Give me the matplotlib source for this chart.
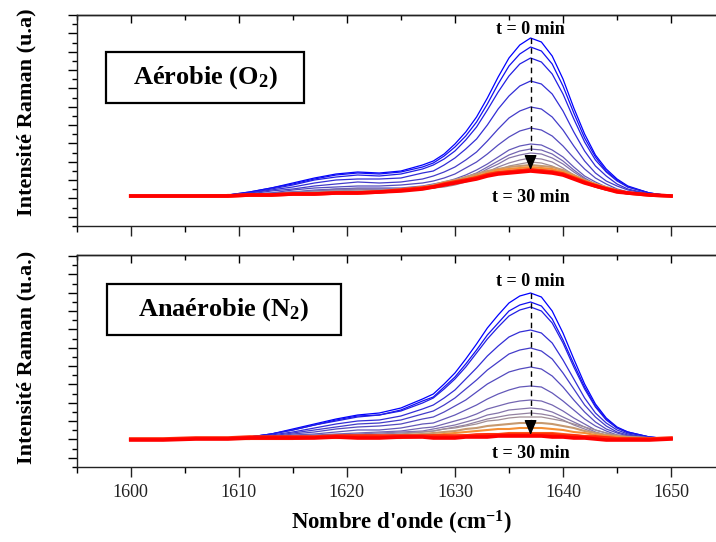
import numpy as np
import matplotlib
matplotlib.use('Agg')
import matplotlib.pyplot as plt
from matplotlib.colors import LinearSegmentedColormap
from matplotlib.patches import Rectangle
from matplotlib.ticker import MultipleLocator, FixedLocator, NullFormatter

plt.rcParams['font.family'] = ['Liberation Serif', 'DejaVu Serif']
plt.rcParams['mathtext.fontset'] = 'custom'
plt.rcParams['mathtext.rm'] = 'Liberation Serif:bold'
plt.rcParams['mathtext.it'] = 'Liberation Serif:bold'
plt.rcParams['mathtext.bf'] = 'Liberation Serif:bold'

# wavenumber grid (cm-1)
wavenumber = [1600, 1603, 1606, 1609, 1611, 1613, 1615, 1617, 1619, 1621, 1623, 1625,
              1627, 1628, 1629, 1630, 1631, 1632, 1633, 1634, 1635, 1636, 1637, 1638,
              1639, 1640, 1641, 1642, 1643, 1644, 1645, 1646, 1648, 1650]

# aerobic (O2) spectra, t = 0 -> 30 min (arbitrary units)
o2_spectra = [
    [30,30,30,31,34,38,43,48,52,54,53,55,61,65,72,82,94,109,128,149,168,181,188,184,170,147,118,92,71,57,47,40,33,30],
    [30,30,30,31,34,38,42,47,51,53,52,54,59,63,70,79,90,104,122,142,160,172,179,175,162,140,113,88,69,55,46,39,33,30],
    [30,30,30,31,33,37,41,46,49,51,50,52,57,61,67,75,86,99,116,134,150,162,168,164,152,132,107,84,66,54,45,39,33,30],
    [30,30,30,31,33,36,39,43,46,47,47,48,53,55,61,68,77,87,101,117,130,140,145,142,132,115,94,75,60,50,42,37,32,30],
    [30,30,30,31,32,35,37,40,42,44,43,44,47,50,54,59,66,74,85,97,108,115,119,117,109,96,80,65,53,45,40,36,32,30],
    [30,30,30,30,32,33,36,38,39,40,40,41,43,45,48,52,58,64,72,81,89,95,98,96,90,80,68,57,48,42,37,34,31,30],
    [30,30,30,30,31,33,34,36,37,38,38,38,40,42,44,47,51,56,62,69,76,80,82,81,76,69,59,50,44,39,36,33,31,30],
    [30,30,30,30,31,32,34,35,37,37,37,37,39,40,42,45,49,53,59,65,71,75,77,76,72,65,56,48,42,38,35,33,31,30],
    [30,30,30,30,31,32,34,35,36,37,36,37,38,40,41,44,47,51,57,62,68,71,73,72,68,62,54,47,41,37,35,33,31,30],
    [30,30,30,30,31,32,33,34,35,36,36,36,37,38,40,43,45,49,54,59,63,66,68,67,64,58,51,45,40,37,34,32,31,30],
    [30,30,30,30,31,32,33,34,35,35,35,35,37,38,39,41,44,47,51,56,60,62,64,63,60,55,49,43,39,36,34,32,31,30],
    [30,30,30,31,31,32,32,33,33,34,35,37,39,41,44,46,49,52,55,57,59,60,61,60,59,56,51,46,42,39,36,33,31,30],
    [30,30,30,31,31,31,32,33,33,34,34,36,39,40,43,45,47,50,53,56,57,58,59,58,57,54,50,45,42,38,35,33,31,30],
    [30,30,30,31,31,31,32,32,33,34,34,36,38,40,42,44,46,49,52,54,55,56,57,56,55,52,48,44,41,38,35,33,31,30],
    [30,30,30,30,31,31,32,32,33,33,34,36,38,39,42,44,46,48,51,53,54,55,56,55,54,52,48,44,40,37,35,33,31,30],
    [30,30,30,30,31,31,32,32,33,33,34,35,37,39,41,43,45,47,50,52,53,54,55,54,53,51,47,43,40,37,34,33,31,30],
]

# anaerobic (N2) spectra, t = 0 -> 30 min (arbitrary units)
n2_spectra = [
    [28,28,28,29,30,33,38,43,48,52,54,59,68,73,83,94,108,123,139,152,164,171,174,170,156,134,108,83,63,49,40,35,30,28],
    [28,28,28,29,30,33,37,42,47,51,52,57,66,70,80,90,103,117,132,144,156,162,165,161,148,127,103,80,61,48,39,35,30,28],
    [28,28,28,29,30,33,37,42,46,50,52,56,64,69,78,88,100,114,128,140,151,157,160,156,144,124,100,78,60,47,39,34,30,28],
    [28,28,28,29,29,32,35,39,43,46,47,51,58,62,69,77,88,99,111,121,130,135,137,134,124,107,88,69,54,44,37,33,29,28],
    [28,28,28,29,29,31,34,37,40,43,44,47,53,56,62,69,78,87,97,105,113,117,119,116,108,94,78,62,50,41,35,32,29,28],
    [28,28,28,28,29,30,33,35,38,40,41,43,48,50,55,61,67,75,83,89,95,98,100,98,91,80,67,55,45,38,34,31,29,28],
    [28,28,28,28,29,30,32,33,35,37,37,39,43,44,48,52,57,62,68,73,77,80,81,80,74,66,57,48,41,36,32,31,29,28],
    [28,28,28,28,29,29,31,32,33,34,35,36,39,40,43,46,49,53,58,61,64,66,67,66,62,56,49,43,37,34,31,30,29,28],
    [28,28,28,28,28,29,30,31,32,33,34,35,36,38,40,42,45,48,52,54,57,58,59,58,55,50,45,40,35,32,31,29,28,28],
    [28,28,28,28,28,29,30,31,32,32,33,34,35,36,38,40,42,45,48,50,52,53,54,53,51,47,42,38,34,32,30,29,28,28],
    [28,28,28,28,29,29,30,30,30,31,31,33,35,36,38,39,41,43,46,47,49,50,50,50,48,46,43,40,37,34,32,30,29,28],
    [28,28,28,28,28,29,29,29,30,30,30,32,33,34,35,36,38,39,41,42,43,44,44,44,43,41,39,36,34,32,31,30,29,28],
    [28,28,28,28,28,29,29,29,29,29,30,30,31,32,33,34,35,36,37,38,38,39,39,39,38,37,35,34,32,31,30,29,28,28],
    [28,28,28,28,28,28,28,29,29,29,29,29,30,30,31,31,32,32,33,33,34,34,34,34,34,33,32,31,30,30,29,29,28,28],
    [28,28,29,29,30,30,30,30,31,31,31,31,31,31,31,31,31,32,32,32,32,32,32,32,32,31,31,30,30,29,28,28,28,29],
    [27,27,28,28,29,29,29,29,30,29,29,30,30,29,29,29,30,30,30,31,31,31,31,31,30,30,29,29,28,27,27,27,27,28],
]

panel_labels = ['Aérobie (O$_2$)', 'Anaérobie (N$_2$)']
ylabels = ['Intensité Raman (u.a)', 'Intensité Raman (u.a.)']

for s in o2_spectra + n2_spectra:
    assert len(s) == len(wavenumber), len(s)

cmap = LinearSegmentedColormap.from_list('time', [
    (0.0, '#0000ff'), (0.3, '#4b43c2'), (0.55, '#8878a8'), (0.7, '#a89490'),
    (0.78, '#f0a040'), (0.88, '#ff4a10'), (1.0, '#ff0000')])

W, H = 716, 542
fig = plt.figure(figsize=(W / 100, H / 100), dpi=100)


def px_axes(l, t, r, b):
    return fig.add_axes([l / W, 1 - b / H, (r - l) / W, (b - t) / H])


ax1 = px_axes(76.7, 15, 725.1, 226)
ax2 = px_axes(76.7, 255, 725.1, 467)

settings = [
    # ax, spectra, ylim, box (x0,y0,w,h), text pos, arrow top, tip, t0 y, t30 y, ylabel y
    (ax1, o2_spectra, 211, (0.045, 0.583, 0.305, 0.242), (0.198, 0.704), 188, 56, 196, 29, 112),
    (ax2, n2_spectra, 212, (0.0467, 0.623, 0.361, 0.241), (0.227, 0.743), 174, 32, 185, 13, 357),
]

for i, (ax, spectra, ytop, box, tpos, a_top, a_tip, y0t, y30t, ylab_y) in enumerate(settings):
    n = len(spectra)
    cols = cmap(np.linspace(0, 1, n))
    for k, s in enumerate(spectra):
        if k >= n - 2:
            lw = 2.6
        elif k >= n - 5:
            lw = 1.5
        else:
            lw = 0.9
        ax.plot(wavenumber, s, color=cols[k], lw=lw, zorder=2 + k * 0.01)

    ax.set_xlim(1595, 1655)
    ax.set_ylim(0, ytop)

    # arrow
    ax.plot([1637, 1637], [a_top, a_tip + 12], color='k', lw=1.0, ls=(0, (4, 3)), zorder=5)
    ax.annotate('', xy=(1637, a_tip), xytext=(1637, a_tip + 12),
                arrowprops=dict(arrowstyle='-|>,head_length=0.6,head_width=0.25',
                                mutation_scale=15, color='k', lw=1.0, shrinkA=0, shrinkB=0),
                zorder=6)
    ax.text(1637, y0t, 't = 0 min', ha='center', va='center', fontsize=13, fontweight='bold')
    ax.text(1637, y30t, 't = 30 min', ha='center', va='center', fontsize=13, fontweight='bold')

    # label box
    ax.add_patch(Rectangle((box[0], box[1]), box[2], box[3], transform=ax.transAxes,
                           fill=False, lw=1.6, ec='k', zorder=7))
    ax.text(tpos[0], tpos[1], panel_labels[i], transform=ax.transAxes, ha='center',
            va='center', fontsize=19, fontweight='bold')

    # axes styling
    for side in ['left', 'bottom', 'top']:
        ax.spines[side].set_linewidth(1.0)
        ax.spines[side].set_color('#222222')
    ax.spines['right'].set_visible(False)
    ax.xaxis.set_major_locator(MultipleLocator(10))
    ax.xaxis.set_minor_locator(MultipleLocator(5))
    ax.tick_params(axis='x', which='major', direction='out', length=7, width=1.0,
                   top=False, labelsize=13, pad=5, colors='#222222')
    ax.tick_params(axis='x', which='minor', direction='out', length=4, width=1.0, top=False)
    ax.yaxis.set_major_locator(FixedLocator(np.arange(9.3, ytop, 18.33)))
    ax.yaxis.set_minor_locator(FixedLocator(np.arange(0.15, ytop, 18.33)))
    ax.yaxis.set_major_formatter(NullFormatter())
    ax.tick_params(axis='y', which='major', direction='out', length=6.3, width=1.0)
    ax.tick_params(axis='y', which='minor', direction='out', length=3.6, width=1.0)

    sec = ax.secondary_xaxis('top')
    sec.xaxis.set_major_locator(MultipleLocator(10))
    sec.xaxis.set_minor_locator(MultipleLocator(5))
    sec.tick_params(axis='x', which='major', direction='in', length=6, width=1.0, labeltop=False)
    sec.tick_params(axis='x', which='minor', direction='in', length=3.6, width=1.0)
    sec.spines['top'].set_linewidth(1.0)

    fig.text(26 / W, 1 - ylab_y / H, ylabels[i], rotation=90, ha='center', va='center',
             fontsize=16, fontweight='bold')

ax1.tick_params(axis='x', labelbottom=False)
fig.text(401 / W, 1 - 523 / H, "Nombre d'onde (cm$^{-1}$)", ha='center', va='center',
         fontsize=16.5, fontweight='bold')

fig.savefig('out.png', dpi=100)
